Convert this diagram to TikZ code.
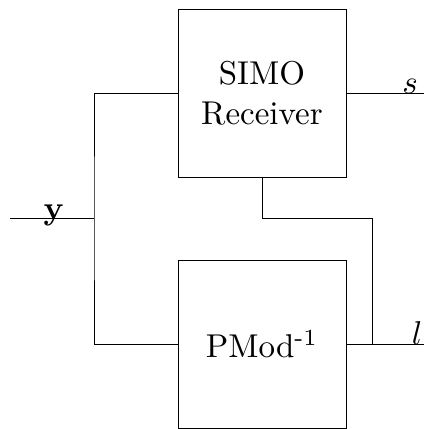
\documentclass[tikz,border=0pt]{standalone}
\begin{document}
\begin{tikzpicture}[x=0.303pt,y=-0.303pt,
  blk/.style={draw,line width=0.28pt,minimum width=50.9pt,minimum height=50.9pt,inner sep=0pt,align=center},
  wire/.style={line width=0.28pt},
  lbl/.style={anchor=base,inner sep=0pt}]
\useasboundingbox (0,0) rectangle (424,429);
\node[blk] (simo) at (262,93) {SIMO\\Receiver};
\node[blk] (pmod) at (262,344) {PMod\textsuperscript{-1}};
\coordinate (in) at (10,218);
\coordinate (sp) at (94,218);
\coordinate (sout) at (424,93);
\coordinate (lout) at (424,344);
\coordinate (lj) at (372,344);
\draw[wire] (in) -- (sp);
\draw[wire] (simo.west) -| (sp) |- (pmod.west);
\draw[wire] (simo.east) -- (sout);
\draw[wire] (pmod.east) -- (lout);
\draw[wire] (simo.south) |- (372,218) -- (lj);
\node[lbl] (y) at (54,219) {$\mathbf{y}$};
\node[lbl] (s) at (410,93) {$s$};
\node[lbl] (l) at (417,344) {$l$};
\end{tikzpicture}
\end{document}
